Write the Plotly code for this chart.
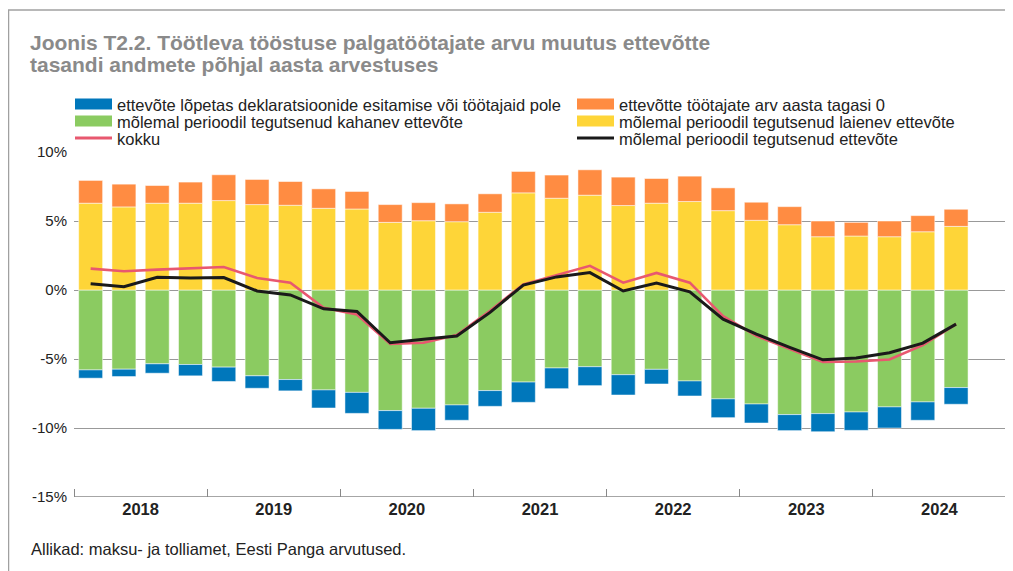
import plotly.graph_objects as go

# --- Data (percent, quarterly 2018Q1 - 2024Q3) ---
quarters = [f"{y}Q{q}" for y in range(2018, 2025) for q in range(1, 5)][:27]
years = ["2018", "2019", "2020", "2021", "2022", "2023", "2024"]

laienev = [6.29, 6.02, 6.29, 6.29, 6.48, 6.19, 6.14, 5.92, 5.87,
           4.90, 5.02, 4.95, 5.63, 7.04, 6.65, 6.87, 6.12, 6.29,
           6.41, 5.75, 5.05, 4.73, 3.86, 3.91, 3.86, 4.22, 4.61]
tagasi_0 = [1.65, 1.65, 1.28, 1.53, 1.87, 1.82, 1.72, 1.41, 1.27,
            1.29, 1.31, 1.29, 1.34, 1.55, 1.68, 1.84, 2.06, 1.79,
            1.84, 1.65, 1.31, 1.31, 1.14, 0.99, 1.14, 1.17, 1.24]
kahanev = [-5.79, -5.74, -5.35, -5.40, -5.59, -6.22, -6.49, -7.24, -7.42,
           -8.74, -8.57, -8.33, -7.29, -6.67, -5.65, -5.56, -6.14, -5.75,
           -6.59, -7.89, -8.26, -9.03, -8.96, -8.84, -8.47, -8.11, -7.07]
lopetas = [-0.60, -0.53, -0.68, -0.82, -1.04, -0.90, -0.82, -1.31, -1.52,
           -1.36, -1.62, -1.11, -1.14, -1.47, -1.50, -1.37, -1.47, -1.06,
           -1.09, -1.36, -1.38, -1.16, -1.31, -1.33, -1.53, -1.33, -1.21]
kokku = [1.55, 1.36, 1.48, 1.58, 1.67, 0.87, 0.53, -1.29, -1.78,
         -3.91, -3.82, -3.26, -1.50, 0.41, 1.09, 1.75, 0.53, 1.24,
         0.53, -1.90, -3.32, -4.29, -5.21, -5.18, -5.04, -4.00, -2.47]
molemal = [0.46, 0.24, 0.92, 0.87, 0.90, -0.07, -0.36, -1.36, -1.55,
           -3.82, -3.57, -3.33, -1.62, 0.36, 0.95, 1.26, -0.07, 0.51,
           -0.13, -2.11, -3.20, -4.16, -5.06, -4.92, -4.55, -3.85, -2.47]

x = list(range(len(quarters)))

BLUE = "#0077bb"
ORANGE = "#ff8c42"
GREEN = "#8bcb61"
YELLOW = "#fed538"
PINK = "#e8586f"
BLACK = "#1a1a1a"

fig = go.Figure()

bar_line = dict(color="rgba(255,255,255,0.5)", width=1)
fig.add_bar(x=x, y=kahanev, marker=dict(color=GREEN, line=bar_line), width=0.72)
fig.add_bar(x=x, y=laienev, marker=dict(color=YELLOW, line=bar_line), width=0.72)
fig.add_bar(x=x, y=lopetas, marker=dict(color=BLUE, line=bar_line), width=0.72)
fig.add_bar(x=x, y=tagasi_0, marker=dict(color=ORANGE, line=bar_line), width=0.72)
fig.add_scatter(x=x, y=kokku, mode="lines", line=dict(color=PINK, width=2.6))
fig.add_scatter(x=x, y=molemal, mode="lines", line=dict(color=BLACK, width=3))

FONT = "Liberation Sans, Arial, sans-serif"

# page body has an 8px margin, so the figure is a bit smaller and offset
OFF = 8
W, H = 1013 - OFF, 571 - OFF
L, T = 74 - OFF, 152 - OFF
R = W - (1006 - OFF)
B = H - (497 - OFF)
pw, ph = W - L - R, H - T - B


def px_x(p):
    return (p - OFF - L) / pw


def px_y(p):
    return (H - B - (p - OFF)) / ph


# --- Legend drawn by hand (two columns, wide swatches) ---
legend_items = [
    ("ettevõte lõpetas deklaratsioonide esitamise või töötajaid pole", BLUE, "bar"),
    ("ettevõtte töötajate arv aasta tagasi 0", ORANGE, "bar"),
    ("mõlemal perioodil tegutsenud kahanev ettevõte", GREEN, "bar"),
    ("mõlemal perioodil tegutsenud laienev ettevõte", YELLOW, "bar"),
    ("kokku", PINK, "line"),
    ("mõlemal perioodil tegutsenud ettevõte", BLACK, "line"),
]

shapes = []
annotations = []
col_x = [75, 577]
row_y = [104, 121, 138]
for i, (name, color, kind) in enumerate(legend_items):
    cx = col_x[i % 2]
    cy = row_y[i // 2]
    if kind == "bar":
        shapes.append(dict(type="rect", xref="paper", yref="paper",
                           x0=px_x(cx), x1=px_x(cx + 37),
                           y0=px_y(cy + 5.5), y1=px_y(cy - 5.5),
                           fillcolor=color, line=dict(width=0)))
    else:
        shapes.append(dict(type="line", xref="paper", yref="paper",
                           x0=px_x(cx), x1=px_x(cx + 37),
                           y0=px_y(cy), y1=px_y(cy),
                           line=dict(color=color, width=3)))
    annotations.append(dict(text=name, xref="paper", yref="paper",
                            x=px_x(cx + 40), y=px_y(cy + 1), xanchor="left",
                            yanchor="middle", showarrow=False,
                            font=dict(size=16.5, color="#222", family=FONT)))

# frame: top and left border
shapes.append(dict(type="line", xref="paper", yref="paper",
                   x0=px_x(8), x1=px_x(1013), y0=px_y(10), y1=px_y(10),
                   line=dict(color="#a0a0a0", width=1.5)))
shapes.append(dict(type="line", xref="paper", yref="paper",
                   x0=px_x(8.5), x1=px_x(8.5), y0=px_y(10), y1=px_y(571),
                   line=dict(color="#a0a0a0", width=1.5)))

title_lines = ["Joonis T2.2. Töötleva tööstuse palgatöötajate arvu muutus ettevõtte",
               "tasandi andmete põhjal aasta arvestuses"]
for line, yy in zip(title_lines, [43, 65]):
    annotations.append(dict(
        text=line, xref="paper", yref="paper", x=px_x(28), y=px_y(yy),
        xanchor="left", yanchor="middle", showarrow=False,
        font=dict(size=21, color="#8a8a8a", family=FONT, weight="bold")))

annotations.append(dict(
    text="Allikad: maksu- ja tolliamet, Eesti Panga arvutused.",
    xref="paper", yref="paper", x=px_x(29), y=px_y(549), xanchor="left",
    yanchor="middle", showarrow=False,
    font=dict(size=16.5, color="#222", family=FONT)))

fig.update_layout(
    width=W, height=H,
    margin=dict(l=L, r=R, t=T, b=B),
    barmode="relative",
    showlegend=False,
    plot_bgcolor="white",
    paper_bgcolor="white",
    font=dict(family=FONT, color="#222"),
    shapes=shapes,
    annotations=annotations,
)

fig.update_xaxes(
    range=[-0.5, 27.5],
    tickvals=[1.5 + 4 * i for i in range(len(years))],
    ticktext=[f"<b>{y}</b>" for y in years],
    ticks="",
    tickfont=dict(size=16.5, color="#222"),
    showgrid=False,
    showline=False,
    zeroline=False,
    minor=dict(tickmode="linear", tick0=-0.5, dtick=4, ticks="inside",
               ticklen=8, tickcolor="#888", showgrid=False),
)

fig.update_yaxes(
    range=[-15, 10],
    tickvals=[-15, -10, -5, 0, 5, 10],
    ticktext=["-15%", "-10%", "-5%", "0%", "5%", "10%"],
    tickfont=dict(size=15, color="#222"),
    showgrid=True,
    gridcolor="#999",
    gridwidth=1,
    zeroline=True,
    zerolinecolor="#999",
    zerolinewidth=1,
    ticks="",
    ticklabelstandoff=6,
)

fig.add_hline(y=-15, line=dict(color="#888", width=1.5))

fig.write_html("out.html")
